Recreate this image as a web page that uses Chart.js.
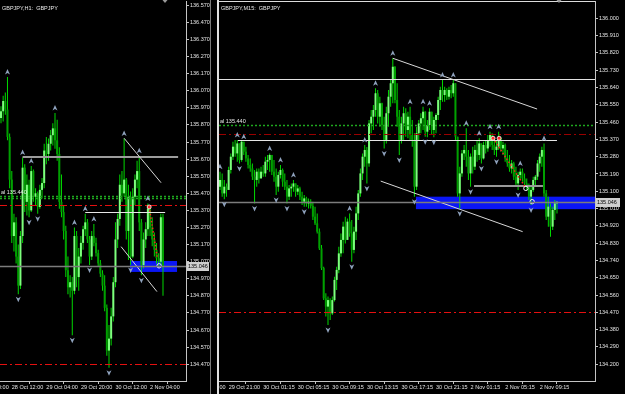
<!DOCTYPE html>
<html>
<head>
<meta charset="utf-8">
<script src="https://cdn.jsdelivr.net/npm/chart.js@4.4.1/dist/chart.umd.min.js"></script>
<style>
  body { margin: 0; background: #000; width: 625px; height: 394px; overflow: hidden; position: relative; }
  canvas { position: absolute; top: 0; }
  #h1Chart { left: 0; }
  #m15Chart { left: 219px; }
  .sep { position: absolute; top: 0; height: 394px; }
</style>
</head>
<body>
<canvas id="h1Chart" width="210" height="394"></canvas>
<div class="sep" style="left:210px;width:1px;background:#7a7a7a"></div>
<div class="sep" style="left:217px;width:2px;background:#e2e2e2"></div>
<canvas id="m15Chart" width="406" height="394"></canvas>
<script>
// ---- H1 panel data (GBPJPY, H1) ----
const h1Open  = [135.91,135.95,136.01,135.96,135.80,135.55,135.22,135.30,135.10,134.93,135.22,135.62,135.42,135.52,135.37,135.60,135.45,135.47,135.39,135.49,
                 135.53,135.72,135.70,135.76,135.81,135.85,135.78,135.70,135.42,135.36,135.25,135.02,134.92,134.95,134.90,135.22,134.98,135.10,135.18,135.26,
                 135.30,135.20,135.10,135.22,135.18,135.12,135.06,135.00,134.93,134.80,134.55,134.62,134.75,134.95,135.20,135.32,135.52,135.47,135.55,135.25,
                 135.45,135.10,135.45,135.55,135.60,135.30,135.05,135.20,135.26,135.38,135.27,135.20,135.14,135.09,135.07,135.33];
const h1High  = [135.98,136.04,136.06,136.15,135.82,135.60,135.35,135.33,135.17,135.25,135.68,135.64,135.58,135.55,135.63,135.61,135.50,135.48,135.52,135.56,
                 135.76,135.80,135.79,135.84,135.88,135.94,135.90,135.74,135.58,135.40,135.28,135.10,134.99,134.98,135.27,135.25,135.15,135.22,135.28,135.35,
                 135.32,135.22,135.25,135.29,135.21,135.14,135.08,135.02,134.99,134.82,134.70,134.80,134.98,135.30,135.35,135.58,135.60,135.79,135.56,135.52,
                 135.48,135.50,135.58,135.66,135.69,135.32,135.24,135.30,135.41,135.40,135.33,135.24,135.18,135.12,135.35,135.35];
const h1Low   = [135.88,135.89,135.93,135.78,135.50,135.18,135.13,135.06,134.88,134.91,135.18,135.36,135.34,135.33,135.36,135.42,135.40,135.35,135.38,135.44,
                 135.50,135.64,135.66,135.72,135.75,135.73,135.66,135.38,135.33,135.20,134.98,134.88,134.86,134.64,134.88,134.92,134.90,135.06,135.14,135.22,
                 135.18,135.05,135.08,135.16,135.10,135.04,134.98,134.90,134.78,134.52,134.45,134.58,134.72,134.92,135.15,135.28,135.42,135.45,135.20,135.08,
                 135.05,135.09,135.40,135.50,135.25,134.99,135.03,135.15,135.22,135.22,135.16,135.10,135.06,135.04,135.05,134.87];
const h1Close = [135.95,136.01,135.96,135.80,135.55,135.22,135.30,135.10,134.93,135.22,135.62,135.42,135.52,135.37,135.60,135.45,135.47,135.39,135.49,135.53,
                 135.72,135.70,135.76,135.81,135.85,135.78,135.70,135.42,135.36,135.25,135.02,134.92,134.95,134.90,135.22,134.98,135.10,135.18,135.26,135.30,
                 135.20,135.10,135.22,135.18,135.12,135.06,135.00,134.93,134.80,134.55,134.62,134.75,134.95,135.20,135.32,135.52,135.47,135.55,135.25,135.45,
                 135.10,135.45,135.55,135.60,135.30,135.05,135.20,135.26,135.38,135.27,135.20,135.14,135.09,135.07,135.33,135.046];
const h1UpFractals   = [3, 10, 14, 25, 34, 39, 43, 57, 64, 68];
const h1DownFractals = [8, 13, 17, 33, 41, 50, 60, 65];
const h1TickIdx   = [-11, 5, 21, 37, 53, 69];
const h1TickText  = ['27 Oct 20:00', '28 Oct 12:00', '29 Oct 04:00', '29 Oct 20:00', '30 Oct 12:00', '2 Nov 04:00'];
const h1PriceTicks = [134.47,134.57,134.67,134.77,134.87,134.97,135.07,135.17,135.27,135.37,135.47,
                      135.57,135.67,135.77,135.87,135.97,136.07,136.17,136.27,136.37,136.47,136.57];
const h1Resist   = [135.684, 10, 82];          // price, from bar, to bar
const h1Support  = [135.363, 39, 76];
const h1Signal   = [135.452, 135.442];
const h1Red      = [135.400, 134.470];
const h1Zone     = [59.7, 81.5, 135.074, 135.010];  // from bar, to bar, top, bottom
const h1Trend    = [[57, 135.792, 74.1, 135.532], [55.6, 135.158, 72.2, 134.895]];
const h1Zigzag   = [68.6, 135.39, 72.3, 135.10];
const h1Rings    = [[73.2, 135.046]];

// ---- M15 panel data (GBPJPY, M15) ----
const m15Open  = [135.124,135.159,135.089,135.124,135.107,135.211,135.280,135.332,135.297,135.349,135.263,135.358,135.306,135.271,135.237,135.219,135.176,135.159,135.202,135.167,
                  135.202,135.193,135.254,135.263,135.289,135.202,135.176,135.124,135.185,135.211,135.150,135.124,135.072,135.115,135.124,135.141,135.098,135.115,135.072,135.046,
                  135.063,135.037,135.046,135.024,134.968,134.933,134.890,134.803,134.700,134.543,134.500,134.534,134.465,134.534,134.639,134.691,134.777,134.847,134.916,134.847,
                  134.942,134.881,134.795,134.890,134.985,135.089,135.193,135.280,135.315,135.245,135.453,135.488,135.523,135.610,135.488,135.558,135.445,135.367,135.506,135.592,
                  135.662,135.748,135.575,135.488,135.367,135.453,135.506,135.419,135.488,135.393,135.367,135.124,135.402,135.453,135.480,135.514,135.410,135.445,135.514,135.419,
                  135.471,135.497,135.575,135.627,135.601,135.627,135.592,135.627,135.610,135.662,135.384,135.089,135.193,135.297,135.315,135.280,135.193,135.280,135.228,135.315,
                  135.289,135.349,135.271,135.341,135.323,135.367,135.393,135.341,135.315,135.332,135.376,135.323,135.341,135.271,135.245,135.219,135.245,135.176,135.141,135.185,
                  135.202,135.167,135.141,135.124,135.072,135.107,135.159,135.176,135.245,135.280,135.315,135.089,134.968,135.020,134.916,135.003,135.037];
const m15High  = [135.202,135.193,135.159,135.141,135.228,135.297,135.358,135.367,135.367,135.349,135.367,135.358,135.332,135.289,135.271,135.245,135.211,135.219,135.219,135.228,
                  135.237,135.280,135.289,135.297,135.289,135.263,135.219,135.202,135.237,135.219,135.193,135.159,135.133,135.141,135.159,135.141,135.133,135.124,135.098,135.081,
                  135.072,135.063,135.058,135.046,135.020,134.985,134.907,134.821,134.708,134.569,134.552,134.543,134.552,134.656,134.708,134.812,134.881,134.942,134.968,134.959,
                  134.985,134.951,134.916,135.020,135.107,135.219,135.297,135.341,135.330,135.471,135.523,135.549,135.636,135.627,135.592,135.560,135.488,135.540,135.627,135.679,
                  135.792,135.750,135.662,135.523,135.488,135.540,135.532,135.514,135.540,135.471,135.402,135.436,135.471,135.506,135.540,135.516,135.471,135.532,135.514,135.488,
                  135.506,135.592,135.644,135.679,135.644,135.636,135.644,135.653,135.679,135.662,135.384,135.228,135.315,135.341,135.428,135.315,135.297,135.332,135.341,135.367,
                  135.376,135.349,135.358,135.367,135.393,135.410,135.402,135.376,135.367,135.410,135.384,135.358,135.349,135.315,135.289,135.263,135.254,135.228,135.202,135.219,
                  135.219,135.193,135.167,135.141,135.124,135.176,135.185,135.263,135.297,135.332,135.349,135.107,135.072,135.037,135.020,135.055,135.046];
const m15Low   = [135.107,135.072,135.058,135.072,135.107,135.193,135.263,135.280,135.254,135.245,135.254,135.289,135.254,135.219,135.202,135.159,135.037,135.124,135.141,135.167,
                  135.176,135.176,135.211,135.202,135.185,135.150,135.081,135.098,135.167,135.124,135.107,135.037,135.055,135.072,135.098,135.072,135.081,135.055,135.029,135.020,
                  135.020,135.011,135.011,134.951,134.925,134.881,134.795,134.691,134.534,134.448,134.404,134.430,134.456,134.526,134.587,134.673,134.760,134.777,134.829,134.847,
                  134.864,134.734,134.777,134.847,134.951,135.072,135.159,135.228,135.141,135.228,135.402,135.419,135.488,135.453,135.436,135.419,135.323,135.349,135.436,135.540,
                  135.558,135.558,135.436,135.289,135.349,135.367,135.384,135.376,135.367,135.332,135.072,135.107,135.367,135.402,135.419,135.384,135.381,135.419,135.393,135.381,
                  135.402,135.471,135.523,135.566,135.566,135.575,135.578,135.584,135.592,135.367,135.072,135.011,135.176,135.263,135.228,135.159,135.124,135.193,135.211,135.254,
                  135.263,135.245,135.265,135.297,135.306,135.332,135.315,135.289,135.280,135.315,135.306,135.289,135.254,135.228,135.202,135.193,135.159,135.124,135.107,135.159,
                  135.150,135.124,135.107,135.055,135.029,135.098,135.124,135.159,135.202,135.228,135.072,134.951,134.916,134.864,134.899,134.951,134.985];
const m15Close = [135.159,135.089,135.124,135.107,135.211,135.280,135.332,135.297,135.349,135.263,135.358,135.306,135.271,135.237,135.219,135.176,135.159,135.202,135.167,135.202,
                  135.193,135.254,135.263,135.289,135.202,135.176,135.124,135.185,135.211,135.150,135.124,135.072,135.115,135.124,135.141,135.098,135.115,135.072,135.046,135.063,
                  135.037,135.046,135.024,134.968,134.933,134.890,134.803,134.700,134.543,134.500,134.534,134.465,134.534,134.639,134.691,134.777,134.847,134.916,134.847,134.942,
                  134.881,134.795,134.890,134.985,135.089,135.193,135.280,135.315,135.245,135.453,135.488,135.523,135.610,135.488,135.558,135.445,135.367,135.506,135.592,135.662,
                  135.748,135.575,135.488,135.367,135.453,135.506,135.419,135.488,135.393,135.367,135.124,135.402,135.453,135.480,135.514,135.410,135.445,135.514,135.419,135.471,
                  135.497,135.575,135.627,135.601,135.627,135.592,135.627,135.610,135.662,135.384,135.089,135.193,135.297,135.315,135.280,135.193,135.280,135.228,135.315,135.289,
                  135.349,135.271,135.341,135.323,135.367,135.393,135.341,135.315,135.332,135.376,135.323,135.341,135.271,135.245,135.219,135.245,135.176,135.141,135.185,135.202,
                  135.167,135.141,135.124,135.072,135.107,135.159,135.176,135.245,135.280,135.315,135.089,134.968,135.020,134.916,135.003,135.037,135.046];
const m15UpFractals   = [0, 8, 11, 23, 28, 34, 60, 67, 72, 80, 88, 94, 97, 103, 108, 114, 120, 125, 129, 139, 150];
const m15DownFractals = [2, 9, 16, 26, 31, 39, 50, 61, 68, 76, 83, 90, 95, 99, 111, 116, 121, 128, 138, 144];
const m15TickIdx  = [-12, 4, 20, 36, 52, 68, 84, 100, 116, 132, 148];
const m15TickText = ['29 Oct 17:00', '29 Oct 21:00', '30 Oct 01:15', '30 Oct 05:15', '30 Oct 09:15', '30 Oct 13:15',
                     '30 Oct 17:15', '30 Oct 21:15', '2 Nov 01:15', '2 Nov 05:15', '2 Nov 09:15'];
const m15PriceTicks = [134.20,134.29,134.38,134.47,134.56,134.65,134.74,134.83,134.92,135.01,135.10,
                       135.19,135.28,135.37,135.46,135.55,135.64,135.73,135.82,135.91,136.00];
const m15Resist  = [135.683, -1, 180];
const m15Support = [135.367, 8.3, 156];
const m15Mid     = [135.129, 117.6, 149.5];
const m15Signal  = [135.445];
const m15Red     = [135.400, 134.470];
const m15Zone    = [90.7, 180, 135.072, 135.007];
const m15Trend   = [[80, 135.792, 146.8, 135.528], [74.4, 135.153, 140.1, 134.890]];
const m15Zigzag  = [126.4, 135.376, 141.2, 135.124];
const m15Rings   = [[141.6, 135.115], [144.5, 135.046]];

const FONT = "'Liberation Sans', Arial, sans-serif";

function candleSets(open, high, low, close) {
  const idx = open.map((_, i) => i);
  return [
    {
      data: idx.map(i => ({ x: i, y: [open[i], close[i]] })),
      backgroundColor: idx.map(i => close[i] >= open[i] ? '#7dff7d' : '#00a000'),
      barThickness: 2, minBarLength: 1, grouped: false, borderWidth: 0, inflateAmount: 0
    },
    {
      data: idx.map(i => ({ x: i, y: [low[i], high[i]] })),
      backgroundColor: '#00d800',
      barThickness: 1, grouped: false, borderWidth: 0, inflateAmount: 0
    }
  ];
}

function hLine(ctx, x, y, price, from, to, color, width, dash) {
  ctx.beginPath();
  ctx.setLineDash(dash || []);
  ctx.strokeStyle = color;
  ctx.lineWidth = width;
  const py = Math.round(y.getPixelForValue(price)) + (width % 2 ? 0.5 : 0);
  ctx.moveTo(x.getPixelForValue(from), py);
  ctx.lineTo(x.getPixelForValue(to), py);
  ctx.stroke();
}

function arrow(ctx, cx, cy, up) {
  const s = up ? 1 : -1;
  ctx.beginPath();
  ctx.moveTo(cx, cy - 3 * s);
  ctx.lineTo(cx + 2.5, cy + 2.5 * s);
  ctx.lineTo(cx, cy + 1 * s);
  ctx.lineTo(cx - 2.5, cy + 2.5 * s);
  ctx.closePath();
  ctx.fillStyle = '#8fa2bd';
  ctx.fill();
}

function overlay(p) {
  return {
    id: 'overlay',
    beforeDatasetsDraw(chart) {
      const { ctx, chartArea: a, scales: { x, y } } = chart;
      ctx.save();
      ctx.beginPath(); ctx.rect(a.left, a.top, a.right - a.left, a.bottom - a.top); ctx.clip();
      const z = p.zone;
      const x0 = x.getPixelForValue(z[0]), x1 = x.getPixelForValue(z[1]);
      const y0 = y.getPixelForValue(z[2]), y1 = y.getPixelForValue(z[3]);
      ctx.fillStyle = '#0a16f5';
      ctx.fillRect(x0, y0, x1 - x0, y1 - y0);
      ctx.restore();
    },
    afterDatasetsDraw(chart) {
      const { ctx, chartArea: a, scales: { x, y } } = chart;
      ctx.save();
      ctx.beginPath(); ctx.rect(a.left, a.top, a.right - a.left, a.bottom - a.top); ctx.clip();
      const xmin = x.min, xmax = x.max;

      // signal (dotted green) and red dash-dot levels
      p.signal.forEach(v => hLine(ctx, x, y, v, xmin, xmax, '#1fa81f', 1.5, [2, 2]));
      hLine(ctx, x, y, p.red[0], xmin, xmax, p.redTop, 1, [7, 3, 2, 3]);
      hLine(ctx, x, y, p.red[1], xmin, xmax, '#e41010', 1, [7, 3, 2, 3]);

      // horizontal levels
      hLine(ctx, x, y, p.resist[0], p.resist[1], p.resist[2], p.resistColor, p.resistWidth);
      hLine(ctx, x, y, p.support[0], p.support[1], p.support[2], '#e6e6e6', 1);
      if (p.mid) hLine(ctx, x, y, p.mid[0], p.mid[1], p.mid[2], '#9a9a9a', 2);

      // trend lines
      ctx.setLineDash([]);
      ctx.strokeStyle = '#d8d8d8';
      ctx.lineWidth = 1;
      p.trend.forEach(t => {
        ctx.beginPath();
        ctx.moveTo(x.getPixelForValue(t[0]), y.getPixelForValue(t[1]));
        ctx.lineTo(x.getPixelForValue(t[2]), y.getPixelForValue(t[3]));
        ctx.stroke();
      });

      // zigzag
      const zz = p.zigzag;
      ctx.beginPath();
      ctx.setLineDash([1.5, 2]);
      ctx.strokeStyle = '#ff2020';
      ctx.lineWidth = 1.5;
      ctx.moveTo(x.getPixelForValue(zz[0]), y.getPixelForValue(zz[1]));
      ctx.lineTo(x.getPixelForValue(zz[2]), y.getPixelForValue(zz[3]));
      ctx.stroke();
      ctx.setLineDash([]);
      p.dots.forEach(d => {
        ctx.beginPath();
        ctx.arc(x.getPixelForValue(d[0]), y.getPixelForValue(d[1]), 2, 0, Math.PI * 2);
        ctx.fillStyle = '#ff2a2a'; ctx.fill();
        ctx.strokeStyle = '#fff'; ctx.lineWidth = 0.8; ctx.stroke();
      });
      p.rings.forEach(r => {
        ctx.beginPath();
        ctx.arc(x.getPixelForValue(r[0]), y.getPixelForValue(r[1]), 2.2, 0, Math.PI * 2);
        ctx.strokeStyle = '#f4f4f4'; ctx.lineWidth = 1; ctx.stroke();
      });

      // bid price line
      hLine(ctx, x, y, p.bid, xmin, xmax, '#7c7c7c', 1.5);

      // fractal arrows
      p.upF.forEach(i => arrow(ctx, x.getPixelForValue(i), y.getPixelForValue(p.high[i]) - 5, true));
      p.downF.forEach(i => arrow(ctx, x.getPixelForValue(i), y.getPixelForValue(p.low[i]) + 5, false));
      ctx.restore();
    },
    afterDraw(chart) {
      const { ctx, chartArea: a, scales: { y } } = chart;
      ctx.save();
      if (p.topBorder) {
        ctx.strokeStyle = '#dcdcdc'; ctx.lineWidth = 1;
        ctx.beginPath(); ctx.moveTo(a.left, a.top + 0.5); ctx.lineTo(a.right, a.top + 0.5); ctx.stroke();
      }
      ctx.font = '5.5px ' + FONT;
      ctx.fillStyle = '#e8e8e8';
      ctx.textBaseline = 'alphabetic';
      ctx.textAlign = 'left';
      ctx.fillText(p.title, a.left + 2, 10);
      ctx.fillText('al 135.440', a.left + 1, y.getPixelForValue(p.signal[0]) - 2);

      // bid label on the price axis
      const by = Math.round(y.getPixelForValue(p.bid));
      ctx.fillStyle = '#cfcfcf';
      ctx.fillRect(a.right + 1, by - 4, p.boxW, 9);
      ctx.fillStyle = '#000';
      ctx.textBaseline = 'middle';
      ctx.fillText(p.bid.toFixed(3), a.right + 2, by + 0.5);

      // chart shift marker
      const sx = chart.scales.x.getPixelForValue(p.high.length - 1) + 2;
      ctx.fillStyle = '#9a9a9a';
      ctx.beginPath(); ctx.moveTo(sx - 2.5, 0); ctx.lineTo(sx + 2.5, 0); ctx.lineTo(sx, 3); ctx.closePath(); ctx.fill();
      ctx.restore();
    }
  };
}

function makePanel(id, s) {
  const axisColor = '#c4c4c4';
  return new Chart(document.getElementById(id), {
    type: 'bar',
    data: { datasets: candleSets(s.open, s.high, s.low, s.close) },
    options: {
      responsive: false,
      animation: false,
      devicePixelRatio: 1,
      layout: { padding: { top: 1, left: 0, right: 0, bottom: 0 } },
      plugins: { legend: { display: false }, tooltip: { enabled: false } },
      scales: {
        x: {
          type: 'linear', min: s.xMin, max: s.xMax, offset: false,
          grid: { display: true, drawOnChartArea: false, drawTicks: true, tickLength: 3, color: axisColor },
          border: { display: true, color: axisColor },
          ticks: {
            autoSkip: false, maxRotation: 0, minRotation: 0, align: 'start', padding: 0,
            color: '#e4e4e4', font: { family: FONT, size: 5.5 },
            callback: (v, i) => s.tickText[i]
          },
          afterBuildTicks: sc => { sc.ticks = s.tickIdx.map(v => ({ value: v })); },
          afterFit: sc => { sc.height = 13; sc.paddingLeft = 0; sc.paddingRight = 0; sc.paddingTop = 0; sc.paddingBottom = 0; }
        },
        y: {
          position: 'right', min: s.yMin, max: s.yMax,
          grid: { display: true, drawOnChartArea: false, drawTicks: true, tickLength: 3, color: axisColor },
          border: { display: true, color: axisColor },
          ticks: {
            autoSkip: false, padding: 1, color: '#e4e4e4', font: { family: FONT, size: 5.5 },
            callback: v => v.toFixed(3)
          },
          afterBuildTicks: sc => { sc.ticks = s.priceTicks.map(v => ({ value: v })); },
          afterFit: sc => { sc.width = s.axisW; sc.paddingLeft = 0; sc.paddingRight = 0; sc.paddingTop = 0; sc.paddingBottom = 0; }
        }
      }
    },
    plugins: [overlay(s)]
  });
}

makePanel('h1Chart', {
  open: h1Open, high: h1High, low: h1Low, close: h1Close,
  upF: h1UpFractals, downF: h1DownFractals,
  tickIdx: h1TickIdx, tickText: h1TickText, priceTicks: h1PriceTicks,
  xMin: -0.46, xMax: 85.65, yMin: 134.372, yMax: 136.595, axisW: 24, boxW: 22,
  resist: h1Resist, resistColor: '#9c9c9c', resistWidth: 2,
  support: h1Support, mid: null, signal: h1Signal, red: h1Red, redTop: '#e41010',
  zone: h1Zone, trend: h1Trend, zigzag: h1Zigzag, dots: [[h1Zigzag[0], h1Zigzag[1]]], rings: h1Rings,
  bid: h1Close[h1Close.length - 1], title: 'GBPJPY,H1:  GBPJPY', topBorder: false
});

makePanel('m15Chart', {
  open: m15Open, high: m15High, low: m15Low, close: m15Close,
  upF: m15UpFractals, downF: m15DownFractals,
  tickIdx: m15TickIdx, tickText: m15TickText, priceTicks: m15PriceTicks,
  xMin: -0.46, xMax: 173.6, yMin: 134.113, yMax: 136.090, axisW: 30, boxW: 24,
  resist: m15Resist, resistColor: '#e2e2e2', resistWidth: 1,
  support: m15Support, mid: m15Mid, signal: m15Signal, red: m15Red, redTop: '#9a0000',
  zone: m15Zone, trend: m15Trend, zigzag: m15Zigzag,
  dots: [[m15Zigzag[0], m15Zigzag[1]], [m15Zigzag[0] + 2.8, m15Zigzag[1]]], rings: m15Rings,
  bid: m15Close[m15Close.length - 1], title: 'GBPJPY,M15:  GBPJPY', topBorder: true
});
</script>
</body>
</html>
